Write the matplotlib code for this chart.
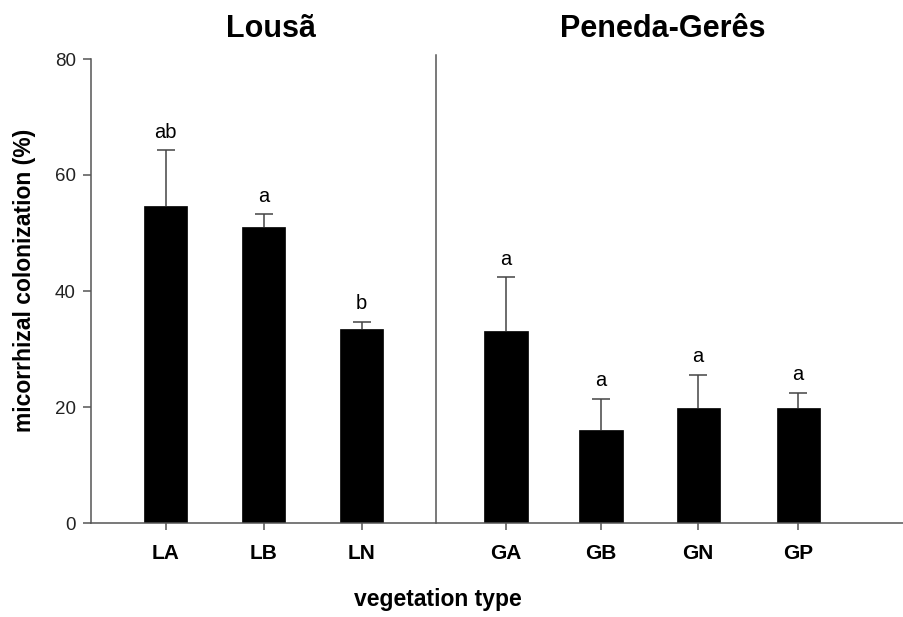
import numpy as np
import matplotlib
matplotlib.use('Agg')
import matplotlib.pyplot as plt

plt.rcParams['font.family'] = ['Liberation Sans', 'DejaVu Sans']

# Vegetation types per site
categories = ['LA', 'LB', 'LN', 'GA', 'GB', 'GN', 'GP']
positions = [1, 2, 3, 4.47, 5.44, 6.43, 7.45]

# Mean colonization (%) and standard error (upper bar only)
colonization = [54.7, 51.0, 33.5, 33.1, 16.1, 19.8, 19.9]
std_error = [9.6, 2.2, 1.2, 9.3, 5.3, 5.8, 2.6]

# Significance letters within each site
letters = ['ab', 'a', 'b', 'a', 'a', 'a', 'a']

sites = ['Lousã', 'Peneda-Gerês']

axis_color = '#555555'

fig = plt.figure(figsize=(9.04, 6.17), dpi=100)
ax = fig.add_axes([91/904, 94/617, 813/904, 464/617])

ax.bar(positions, colonization, width=0.44, color='black', edgecolor='black',
       linewidth=0.5, zorder=2)

# Upper error bars: stem and cap
pos = np.array(positions)
top = np.array(colonization) + np.array(std_error)
ax.vlines(pos, colonization, top, color='#444444', linewidth=1.1, zorder=1)
ax.hlines(top, pos - 0.09, pos + 0.09, color='#444444', linewidth=1.1, zorder=1)

# Letters above error bars
for x, t, lab in zip(positions, top, letters):
    ax.annotate(lab, (x, t), xytext=(0, 9), textcoords='offset points',
                ha='center', va='baseline', fontsize=14.5)

# Divider between the two sites
ax.axvline(3.758, ymin=0, ymax=1.008, color=axis_color, linewidth=1.1,
           clip_on=False)

ax.set_xlim(0.238, 8.53)
ax.set_ylim(0, 80)
ax.set_yticks([0, 20, 40, 60, 80])
ax.set_xticks(positions)
ax.set_xticklabels(categories, fontsize=15, fontweight='bold')
ax.tick_params(axis='y', labelsize=13.5, length=6, width=1.1, pad=5,
               color=axis_color, labelcolor='#222222')
ax.tick_params(axis='x', length=5, width=1.1, pad=10, color=axis_color)

for side in ['top', 'right']:
    ax.spines[side].set_visible(False)
for side in ['left', 'bottom']:
    ax.spines[side].set_color(axis_color)
    ax.spines[side].set_linewidth(1.1)

# Site names on top
fig.text(271/904, 1 - 37/617, sites[0], ha='center', va='baseline',
         fontsize=22, fontweight='bold')
fig.text(663/904, 1 - 37/617, sites[1], ha='center', va='baseline',
         fontsize=22, fontweight='bold')

fig.text(25/904, 1 - 280/617, 'micorrhizal colonization (%)', rotation=90,
         ha='center', va='center', fontsize=16.5, fontweight='bold')
fig.text(437.5/904, 1 - 606/617, 'vegetation type', ha='center',
         va='baseline', fontsize=16.5, fontweight='bold')

fig.savefig('out.png', dpi=100)
